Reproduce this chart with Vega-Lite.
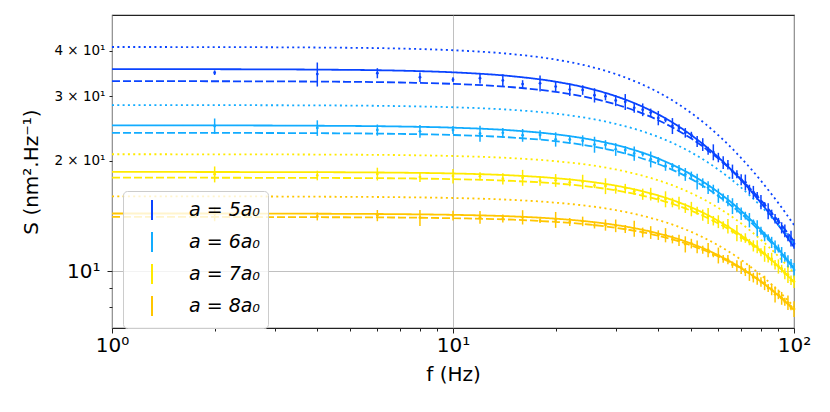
{
  "$schema": "https://vega.github.io/schema/vega-lite/v6.json",
  "width": 682,
  "height": 313,
  "autosize": {"type": "none"},
  "padding": {"left": 112, "top": 15, "right": 36, "bottom": 84},
  "background": "white",
  "config": {
    "font": "DejaVu Sans",
    "view": {"stroke": "#222222", "strokeWidth": 1.1},
    "axis": {
      "domain": false,
      "tickColor": "#222222",
      "tickWidth": 1,
      "labelColor": "#000000",
      "titleColor": "#000000",
      "labelFont": "DejaVu Sans",
      "titleFont": "DejaVu Sans",
      "titleFontWeight": "normal",
      "gridColor": "#b0b0b0",
      "gridWidth": 0.8
    },
    "legend": {
      "orient": "none",
      "legendX": 11,
      "legendY": 176,
      "padding": 8,
      "symbolType": "M0,-1L0,1",
      "symbolSize": 400,
      "symbolStrokeWidth": 2,
      "symbolOffset": 10,
      "labelOffset": 26,
      "labelFontSize": 19,
      "labelFontStyle": "italic",
      "labelFont": "DejaVu Sans",
      "labelColor": "#000000",
      "rowPadding": 4,
      "strokeColor": "#cccccc",
      "fillColor": "rgba(255,255,255,0.8)",
      "cornerRadius": 4
    }
  },
  "datasets": {
    "curves": [
      {"a":"5","k":"fit","f":1,"S":35.6},{"a":"5","k":"fit","f":2,"S":35.57},{"a":"5","k":"fit","f":4,"S":35.48},{"a":"5","k":"fit","f":7,"S":35.25},{"a":"5","k":"fit","f":10,"S":34.88},{"a":"5","k":"fit","f":15,"S":34.02},{"a":"5","k":"fit","f":20,"S":32.89},{"a":"5","k":"fit","f":25,"S":31.54},{"a":"5","k":"fit","f":30,"S":30.03},{"a":"5","k":"fit","f":35,"S":28.43},{"a":"5","k":"fit","f":40,"S":26.78},{"a":"5","k":"fit","f":45,"S":25.13},{"a":"5","k":"fit","f":50,"S":23.5},{"a":"5","k":"fit","f":55,"S":21.94},{"a":"5","k":"fit","f":60,"S":20.45},{"a":"5","k":"fit","f":65,"S":19.04},{"a":"5","k":"fit","f":70,"S":17.72},{"a":"5","k":"fit","f":75,"S":16.5},{"a":"5","k":"fit","f":80,"S":15.36},{"a":"5","k":"fit","f":85,"S":14.31},{"a":"5","k":"fit","f":90,"S":13.35},{"a":"5","k":"fit","f":95,"S":12.46},{"a":"5","k":"fit","f":100,"S":11.64},
      {"a":"5","k":"sim","f":1,"S":33.0},{"a":"5","k":"sim","f":2,"S":32.98},{"a":"5","k":"sim","f":4,"S":32.91},{"a":"5","k":"sim","f":7,"S":32.72},{"a":"5","k":"sim","f":10,"S":32.44},{"a":"5","k":"sim","f":15,"S":31.76},{"a":"5","k":"sim","f":20,"S":30.85},{"a":"5","k":"sim","f":25,"S":29.76},{"a":"5","k":"sim","f":30,"S":28.53},{"a":"5","k":"sim","f":35,"S":27.2},{"a":"5","k":"sim","f":40,"S":25.82},{"a":"5","k":"sim","f":45,"S":24.4},{"a":"5","k":"sim","f":50,"S":23.0},{"a":"5","k":"sim","f":55,"S":21.62},{"a":"5","k":"sim","f":60,"S":20.29},{"a":"5","k":"sim","f":65,"S":19.02},{"a":"5","k":"sim","f":70,"S":17.82},{"a":"5","k":"sim","f":75,"S":16.68},{"a":"5","k":"sim","f":80,"S":15.62},{"a":"5","k":"sim","f":85,"S":14.62},{"a":"5","k":"sim","f":90,"S":13.7},{"a":"5","k":"sim","f":95,"S":12.84},{"a":"5","k":"sim","f":100,"S":12.05},
      {"a":"5","k":"model","f":1,"S":40.9},{"a":"5","k":"model","f":2,"S":40.87},{"a":"5","k":"model","f":4,"S":40.76},{"a":"5","k":"model","f":7,"S":40.5},{"a":"5","k":"model","f":10,"S":40.07},{"a":"5","k":"model","f":15,"S":39.09},{"a":"5","k":"model","f":20,"S":37.79},{"a":"5","k":"model","f":25,"S":36.24},{"a":"5","k":"model","f":30,"S":34.5},{"a":"5","k":"model","f":35,"S":32.66},{"a":"5","k":"model","f":40,"S":30.77},{"a":"5","k":"model","f":45,"S":28.87},{"a":"5","k":"model","f":50,"S":27.0},{"a":"5","k":"model","f":55,"S":25.21},{"a":"5","k":"model","f":60,"S":23.49},{"a":"5","k":"model","f":65,"S":21.88},{"a":"5","k":"model","f":70,"S":20.36},{"a":"5","k":"model","f":75,"S":18.96},{"a":"5","k":"model","f":80,"S":17.65},{"a":"5","k":"model","f":85,"S":16.44},{"a":"5","k":"model","f":90,"S":15.34},{"a":"5","k":"model","f":95,"S":14.31},{"a":"5","k":"model","f":100,"S":13.37},
      {"a":"6","k":"fit","f":1,"S":25.0},{"a":"6","k":"fit","f":2,"S":24.99},{"a":"6","k":"fit","f":4,"S":24.94},{"a":"6","k":"fit","f":7,"S":24.82},{"a":"6","k":"fit","f":10,"S":24.64},{"a":"6","k":"fit","f":15,"S":24.21},{"a":"6","k":"fit","f":20,"S":23.63},{"a":"6","k":"fit","f":25,"S":22.92},{"a":"6","k":"fit","f":30,"S":22.11},{"a":"6","k":"fit","f":35,"S":21.23},{"a":"6","k":"fit","f":40,"S":20.29},{"a":"6","k":"fit","f":45,"S":19.32},{"a":"6","k":"fit","f":50,"S":18.35},{"a":"6","k":"fit","f":55,"S":17.37},{"a":"6","k":"fit","f":60,"S":16.42},{"a":"6","k":"fit","f":65,"S":15.5},{"a":"6","k":"fit","f":70,"S":14.61},{"a":"6","k":"fit","f":75,"S":13.77},{"a":"6","k":"fit","f":80,"S":12.96},{"a":"6","k":"fit","f":85,"S":12.21},{"a":"6","k":"fit","f":90,"S":11.49},{"a":"6","k":"fit","f":95,"S":10.82},{"a":"6","k":"fit","f":100,"S":10.2},
      {"a":"6","k":"sim","f":1,"S":23.85},{"a":"6","k":"sim","f":2,"S":23.84},{"a":"6","k":"sim","f":4,"S":23.8},{"a":"6","k":"sim","f":7,"S":23.69},{"a":"6","k":"sim","f":10,"S":23.53},{"a":"6","k":"sim","f":15,"S":23.15},{"a":"6","k":"sim","f":20,"S":22.63},{"a":"6","k":"sim","f":25,"S":21.99},{"a":"6","k":"sim","f":30,"S":21.26},{"a":"6","k":"sim","f":35,"S":20.46},{"a":"6","k":"sim","f":40,"S":19.61},{"a":"6","k":"sim","f":45,"S":18.73},{"a":"6","k":"sim","f":50,"S":17.83},{"a":"6","k":"sim","f":55,"S":16.93},{"a":"6","k":"sim","f":60,"S":16.04},{"a":"6","k":"sim","f":65,"S":15.18},{"a":"6","k":"sim","f":70,"S":14.35},{"a":"6","k":"sim","f":75,"S":13.55},{"a":"6","k":"sim","f":80,"S":12.79},{"a":"6","k":"sim","f":85,"S":12.07},{"a":"6","k":"sim","f":90,"S":11.39},{"a":"6","k":"sim","f":95,"S":10.75},{"a":"6","k":"sim","f":100,"S":10.14},
      {"a":"6","k":"model","f":1,"S":28.4},{"a":"6","k":"model","f":2,"S":28.38},{"a":"6","k":"model","f":4,"S":28.34},{"a":"6","k":"model","f":7,"S":28.21},{"a":"6","k":"model","f":10,"S":28.01},{"a":"6","k":"model","f":15,"S":27.54},{"a":"6","k":"model","f":20,"S":26.91},{"a":"6","k":"model","f":25,"S":26.13},{"a":"6","k":"model","f":30,"S":25.24},{"a":"6","k":"model","f":35,"S":24.27},{"a":"6","k":"model","f":40,"S":23.24},{"a":"6","k":"model","f":45,"S":22.17},{"a":"6","k":"model","f":50,"S":21.08},{"a":"6","k":"model","f":55,"S":20.0},{"a":"6","k":"model","f":60,"S":18.93},{"a":"6","k":"model","f":65,"S":17.9},{"a":"6","k":"model","f":70,"S":16.9},{"a":"6","k":"model","f":75,"S":15.94},{"a":"6","k":"model","f":80,"S":15.04},{"a":"6","k":"model","f":85,"S":14.18},{"a":"6","k":"model","f":90,"S":13.36},{"a":"6","k":"model","f":95,"S":12.6},{"a":"6","k":"model","f":100,"S":11.89},
      {"a":"7","k":"fit","f":1,"S":18.66},{"a":"7","k":"fit","f":2,"S":18.65},{"a":"7","k":"fit","f":4,"S":18.63},{"a":"7","k":"fit","f":7,"S":18.57},{"a":"7","k":"fit","f":10,"S":18.48},{"a":"7","k":"fit","f":15,"S":18.25},{"a":"7","k":"fit","f":20,"S":17.94},{"a":"7","k":"fit","f":25,"S":17.56},{"a":"7","k":"fit","f":30,"S":17.12},{"a":"7","k":"fit","f":35,"S":16.62},{"a":"7","k":"fit","f":40,"S":16.09},{"a":"7","k":"fit","f":45,"S":15.52},{"a":"7","k":"fit","f":50,"S":14.93},{"a":"7","k":"fit","f":55,"S":14.33},{"a":"7","k":"fit","f":60,"S":13.72},{"a":"7","k":"fit","f":65,"S":13.12},{"a":"7","k":"fit","f":70,"S":12.52},{"a":"7","k":"fit","f":75,"S":11.94},{"a":"7","k":"fit","f":80,"S":11.38},{"a":"7","k":"fit","f":85,"S":10.83},{"a":"7","k":"fit","f":90,"S":10.31},{"a":"7","k":"fit","f":95,"S":9.81},{"a":"7","k":"fit","f":100,"S":9.33},
      {"a":"7","k":"sim","f":1,"S":18.0},{"a":"7","k":"sim","f":2,"S":17.99},{"a":"7","k":"sim","f":4,"S":17.97},{"a":"7","k":"sim","f":7,"S":17.92},{"a":"7","k":"sim","f":10,"S":17.83},{"a":"7","k":"sim","f":15,"S":17.63},{"a":"7","k":"sim","f":20,"S":17.36},{"a":"7","k":"sim","f":25,"S":17.02},{"a":"7","k":"sim","f":30,"S":16.62},{"a":"7","k":"sim","f":35,"S":16.17},{"a":"7","k":"sim","f":40,"S":15.68},{"a":"7","k":"sim","f":45,"S":15.16},{"a":"7","k":"sim","f":50,"S":14.62},{"a":"7","k":"sim","f":55,"S":14.06},{"a":"7","k":"sim","f":60,"S":13.5},{"a":"7","k":"sim","f":65,"S":12.94},{"a":"7","k":"sim","f":70,"S":12.38},{"a":"7","k":"sim","f":75,"S":11.84},{"a":"7","k":"sim","f":80,"S":11.3},{"a":"7","k":"sim","f":85,"S":10.79},{"a":"7","k":"sim","f":90,"S":10.29},{"a":"7","k":"sim","f":95,"S":9.81},{"a":"7","k":"sim","f":100,"S":9.35},
      {"a":"7","k":"model","f":1,"S":20.85},{"a":"7","k":"model","f":2,"S":20.84},{"a":"7","k":"model","f":4,"S":20.81},{"a":"7","k":"model","f":7,"S":20.74},{"a":"7","k":"model","f":10,"S":20.62},{"a":"7","k":"model","f":15,"S":20.34},{"a":"7","k":"model","f":20,"S":19.96},{"a":"7","k":"model","f":25,"S":19.5},{"a":"7","k":"model","f":30,"S":18.95},{"a":"7","k":"model","f":35,"S":18.35},{"a":"7","k":"model","f":40,"S":17.7},{"a":"7","k":"model","f":45,"S":17.02},{"a":"7","k":"model","f":50,"S":16.32},{"a":"7","k":"model","f":55,"S":15.61},{"a":"7","k":"model","f":60,"S":14.89},{"a":"7","k":"model","f":65,"S":14.19},{"a":"7","k":"model","f":70,"S":13.5},{"a":"7","k":"model","f":75,"S":12.83},{"a":"7","k":"model","f":80,"S":12.18},{"a":"7","k":"model","f":85,"S":11.57},{"a":"7","k":"model","f":90,"S":10.97},{"a":"7","k":"model","f":95,"S":10.41},{"a":"7","k":"model","f":100,"S":9.88},
      {"a":"8","k":"fit","f":1,"S":14.37},{"a":"8","k":"fit","f":2,"S":14.37},{"a":"8","k":"fit","f":4,"S":14.35},{"a":"8","k":"fit","f":7,"S":14.31},{"a":"8","k":"fit","f":10,"S":14.25},{"a":"8","k":"fit","f":15,"S":14.11},{"a":"8","k":"fit","f":20,"S":13.91},{"a":"8","k":"fit","f":25,"S":13.66},{"a":"8","k":"fit","f":30,"S":13.37},{"a":"8","k":"fit","f":35,"S":13.04},{"a":"8","k":"fit","f":40,"S":12.68},{"a":"8","k":"fit","f":45,"S":12.3},{"a":"8","k":"fit","f":50,"S":11.89},{"a":"8","k":"fit","f":55,"S":11.48},{"a":"8","k":"fit","f":60,"S":11.05},{"a":"8","k":"fit","f":65,"S":10.63},{"a":"8","k":"fit","f":70,"S":10.2},{"a":"8","k":"fit","f":75,"S":9.78},{"a":"8","k":"fit","f":80,"S":9.37},{"a":"8","k":"fit","f":85,"S":8.97},{"a":"8","k":"fit","f":90,"S":8.58},{"a":"8","k":"fit","f":95,"S":8.2},{"a":"8","k":"fit","f":100,"S":7.84},
      {"a":"8","k":"sim","f":1,"S":14.06},{"a":"8","k":"sim","f":2,"S":14.06},{"a":"8","k":"sim","f":4,"S":14.04},{"a":"8","k":"sim","f":7,"S":14.01},{"a":"8","k":"sim","f":10,"S":13.95},{"a":"8","k":"sim","f":15,"S":13.82},{"a":"8","k":"sim","f":20,"S":13.63},{"a":"8","k":"sim","f":25,"S":13.41},{"a":"8","k":"sim","f":30,"S":13.14},{"a":"8","k":"sim","f":35,"S":12.83},{"a":"8","k":"sim","f":40,"S":12.5},{"a":"8","k":"sim","f":45,"S":12.14},{"a":"8","k":"sim","f":50,"S":11.76},{"a":"8","k":"sim","f":55,"S":11.37},{"a":"8","k":"sim","f":60,"S":10.97},{"a":"8","k":"sim","f":65,"S":10.57},{"a":"8","k":"sim","f":70,"S":10.17},{"a":"8","k":"sim","f":75,"S":9.77},{"a":"8","k":"sim","f":80,"S":9.37},{"a":"8","k":"sim","f":85,"S":8.99},{"a":"8","k":"sim","f":90,"S":8.61},{"a":"8","k":"sim","f":95,"S":8.25},{"a":"8","k":"sim","f":100,"S":7.89},
      {"a":"8","k":"model","f":1,"S":16.0},{"a":"8","k":"model","f":2,"S":16.0},{"a":"8","k":"model","f":4,"S":15.97},{"a":"8","k":"model","f":7,"S":15.92},{"a":"8","k":"model","f":10,"S":15.84},{"a":"8","k":"model","f":15,"S":15.65},{"a":"8","k":"model","f":20,"S":15.38},{"a":"8","k":"model","f":25,"S":15.06},{"a":"8","k":"model","f":30,"S":14.68},{"a":"8","k":"model","f":35,"S":14.25},{"a":"8","k":"model","f":40,"S":13.79},{"a":"8","k":"model","f":45,"S":13.31},{"a":"8","k":"model","f":50,"S":12.8},{"a":"8","k":"model","f":55,"S":12.28},{"a":"8","k":"model","f":60,"S":11.76},{"a":"8","k":"model","f":65,"S":11.25},{"a":"8","k":"model","f":70,"S":10.74},{"a":"8","k":"model","f":75,"S":10.24},{"a":"8","k":"model","f":80,"S":9.76},{"a":"8","k":"model","f":85,"S":9.29},{"a":"8","k":"model","f":90,"S":8.84},{"a":"8","k":"model","f":95,"S":8.41},{"a":"8","k":"model","f":100,"S":8.0}
    ],
    "points": [
      {"a":"5","f":2,"S":34.8,"e":0.5},{"a":"5","f":4,"S":34.5,"e":2.6},{"a":"5","f":6,"S":34.7,"e":1.1},{"a":"5","f":8,"S":33.82,"e":1.0},{"a":"5","f":10,"S":33.3,"e":0.5},{"a":"5","f":12,"S":33.6,"e":1.1},{"a":"5","f":14,"S":33.15,"e":1.33},{"a":"5","f":16,"S":32.39,"e":0.81},{"a":"5","f":18,"S":32.55,"e":1.63},{"a":"5","f":20,"S":31.89,"e":0.96},
      {"a":"5","f":22,"S":31.3,"e":1.25},{"a":"5","f":24,"S":31.22,"e":0.94},{"a":"5","f":26,"S":30.21,"e":1.36},{"a":"5","f":28,"S":30.0,"e":0.75},{"a":"5","f":30,"S":29.23,"e":1.02},{"a":"5","f":32,"S":28.98,"e":1.45},{"a":"5","f":34,"S":27.91,"e":0.84},{"a":"5","f":36,"S":27.59,"e":1.1},{"a":"5","f":38,"S":27.09,"e":0.68},{"a":"5","f":40,"S":26.19,"e":1.18},
      {"a":"5","f":42,"S":25.88,"e":0.39},{"a":"5","f":44,"S":24.92,"e":1.25},{"a":"5","f":46,"S":24.58,"e":0.61},{"a":"5","f":48,"S":23.86,"e":0.72},{"a":"5","f":50,"S":23.54,"e":0.47},{"a":"5","f":52,"S":22.6,"e":0.79},{"a":"5","f":54,"S":22.17,"e":0.89},{"a":"5","f":56,"S":21.33,"e":0.53},{"a":"5","f":58,"S":21.13,"e":1.06},{"a":"5","f":60,"S":20.43,"e":0.61},
      {"a":"5","f":62,"S":19.8,"e":0.79},{"a":"5","f":64,"S":19.52,"e":0.59},{"a":"5","f":66,"S":18.7,"e":0.84},{"a":"5","f":68,"S":18.39,"e":0.46},{"a":"5","f":70,"S":17.77,"e":0.62},{"a":"5","f":72,"S":17.48,"e":0.87},{"a":"5","f":74,"S":16.72,"e":0.5},{"a":"5","f":76,"S":16.43,"e":0.66},{"a":"5","f":78,"S":16.05,"e":0.4},{"a":"5","f":80,"S":15.45,"e":0.7},
      {"a":"5","f":82,"S":15.21,"e":0.23},{"a":"5","f":84,"S":14.59,"e":0.73},{"a":"5","f":86,"S":14.36,"e":0.36},{"a":"5","f":88,"S":13.91,"e":0.42},{"a":"5","f":90,"S":13.71,"e":0.27},{"a":"5","f":92,"S":13.14,"e":0.46},{"a":"5","f":94,"S":12.89,"e":0.52},{"a":"5","f":96,"S":12.39,"e":0.31},{"a":"5","f":98,"S":12.29,"e":0.61},{"a":"5","f":100,"S":11.88,"e":0.36},
      {"a":"6","f":2,"S":24.9,"e":1.2},{"a":"6","f":4,"S":24.6,"e":1.2},{"a":"6","f":6,"S":24.28,"e":0.85},{"a":"6","f":8,"S":24.08,"e":0.96},{"a":"6","f":10,"S":24.28,"e":0.61},{"a":"6","f":12,"S":23.75,"e":1.19},{"a":"6","f":14,"S":23.85,"e":0.72},{"a":"6","f":16,"S":23.49,"e":0.94},{"a":"6","f":18,"S":23.53,"e":0.71},{"a":"6","f":20,"S":22.9,"e":1.03},
      {"a":"6","f":22,"S":22.87,"e":0.57},{"a":"6","f":24,"S":22.69,"e":0.79},{"a":"6","f":26,"S":22.16,"e":1.11},{"a":"6","f":28,"S":22.12,"e":0.66},{"a":"6","f":30,"S":21.5,"e":0.86},{"a":"6","f":32,"S":21.4,"e":0.54},{"a":"6","f":34,"S":20.96,"e":0.94},{"a":"6","f":36,"S":20.87,"e":0.31},{"a":"6","f":38,"S":20.2,"e":1.01},{"a":"6","f":40,"S":19.98,"e":0.5},
      {"a":"6","f":42,"S":19.37,"e":0.58},{"a":"6","f":44,"S":19.33,"e":0.39},{"a":"6","f":46,"S":18.83,"e":0.66},{"a":"6","f":48,"S":18.38,"e":0.74},{"a":"6","f":50,"S":18.24,"e":0.46},{"a":"6","f":52,"S":17.58,"e":0.88},{"a":"6","f":54,"S":17.4,"e":0.52},{"a":"6","f":56,"S":16.91,"e":0.68},{"a":"6","f":58,"S":16.72,"e":0.5},{"a":"6","f":60,"S":16.08,"e":0.72},
      {"a":"6","f":62,"S":15.89,"e":0.4},{"a":"6","f":64,"S":15.59,"e":0.55},{"a":"6","f":66,"S":15.07,"e":0.75},{"a":"6","f":68,"S":14.91,"e":0.45},{"a":"6","f":70,"S":14.36,"e":0.57},{"a":"6","f":72,"S":14.18,"e":0.35},{"a":"6","f":74,"S":13.79,"e":0.62},{"a":"6","f":76,"S":13.64,"e":0.2},{"a":"6","f":78,"S":13.11,"e":0.66},{"a":"6","f":80,"S":12.9,"e":0.32},
      {"a":"6","f":82,"S":12.44,"e":0.37},{"a":"6","f":84,"S":12.37,"e":0.25},{"a":"6","f":86,"S":11.99,"e":0.42},{"a":"6","f":88,"S":11.66,"e":0.47},{"a":"6","f":90,"S":11.54,"e":0.29},{"a":"6","f":92,"S":11.09,"e":0.55},{"a":"6","f":94,"S":10.95,"e":0.33},{"a":"6","f":96,"S":10.63,"e":0.43},{"a":"6","f":98,"S":10.49,"e":0.31},{"a":"6","f":100,"S":10.08,"e":0.45},
      {"a":"7","f":2,"S":18.39,"e":0.92},{"a":"7","f":4,"S":18.25,"e":0.55},{"a":"7","f":6,"S":18.42,"e":0.74},{"a":"7","f":8,"S":18.06,"e":0.54},{"a":"7","f":10,"S":18.18,"e":0.82},{"a":"7","f":12,"S":18.17,"e":0.45},{"a":"7","f":14,"S":17.88,"e":0.63},{"a":"7","f":16,"S":18.0,"e":0.9},{"a":"7","f":18,"S":17.64,"e":0.53},{"a":"7","f":20,"S":17.7,"e":0.71},
      {"a":"7","f":22,"S":17.48,"e":0.44},{"a":"7","f":24,"S":17.54,"e":0.79},{"a":"7","f":26,"S":17.12,"e":0.26},{"a":"7","f":28,"S":17.08,"e":0.85},{"a":"7","f":30,"S":16.7,"e":0.42},{"a":"7","f":32,"S":16.81,"e":0.5},{"a":"7","f":34,"S":16.5,"e":0.33},{"a":"7","f":36,"S":16.23,"e":0.57},{"a":"7","f":38,"S":16.24,"e":0.65},{"a":"7","f":40,"S":15.78,"e":0.39},
      {"a":"7","f":42,"S":15.73,"e":0.79},{"a":"7","f":44,"S":15.4,"e":0.46},{"a":"7","f":46,"S":15.35,"e":0.61},{"a":"7","f":48,"S":14.87,"e":0.45},{"a":"7","f":50,"S":14.79,"e":0.67},{"a":"7","f":52,"S":14.62,"e":0.37},{"a":"7","f":54,"S":14.23,"e":0.5},{"a":"7","f":56,"S":14.16,"e":0.71},{"a":"7","f":58,"S":13.74,"e":0.41},{"a":"7","f":60,"S":13.66,"e":0.55},
      {"a":"7","f":62,"S":13.35,"e":0.33},{"a":"7","f":64,"S":13.28,"e":0.6},{"a":"7","f":66,"S":12.86,"e":0.19},{"a":"7","f":68,"S":12.72,"e":0.64},{"a":"7","f":70,"S":12.34,"e":0.31},{"a":"7","f":72,"S":12.32,"e":0.37},{"a":"7","f":74,"S":12.01,"e":0.24},{"a":"7","f":76,"S":11.73,"e":0.41},{"a":"7","f":78,"S":11.67,"e":0.47},{"a":"7","f":80,"S":11.27,"e":0.28},
      {"a":"7","f":82,"S":11.17,"e":0.56},{"a":"7","f":84,"S":10.89,"e":0.33},{"a":"7","f":86,"S":10.8,"e":0.43},{"a":"7","f":88,"S":10.42,"e":0.31},{"a":"7","f":90,"S":10.31,"e":0.46},{"a":"7","f":92,"S":10.16,"e":0.25},{"a":"7","f":94,"S":9.85,"e":0.34},{"a":"7","f":96,"S":9.78,"e":0.49},{"a":"7","f":98,"S":9.45,"e":0.28},{"a":"7","f":100,"S":9.37,"e":0.37},
      {"a":"8","f":2,"S":14.34,"e":0.65},{"a":"8","f":4,"S":14.11,"e":0.35},{"a":"8","f":6,"S":14.19,"e":0.5},{"a":"8","f":8,"S":13.99,"e":0.7},{"a":"8","f":10,"S":14.19,"e":0.43},{"a":"8","f":12,"S":14.04,"e":0.56},{"a":"8","f":14,"S":13.92,"e":0.35},{"a":"8","f":16,"S":14.04,"e":0.63},{"a":"8","f":18,"S":13.74,"e":0.21},{"a":"8","f":20,"S":13.82,"e":0.69},
      {"a":"8","f":22,"S":13.63,"e":0.34},{"a":"8","f":24,"S":13.68,"e":0.41},{"a":"8","f":26,"S":13.35,"e":0.27},{"a":"8","f":28,"S":13.37,"e":0.47},{"a":"8","f":30,"S":13.31,"e":0.53},{"a":"8","f":32,"S":13.04,"e":0.33},{"a":"8","f":34,"S":13.07,"e":0.65},{"a":"8","f":36,"S":12.76,"e":0.39},{"a":"8","f":38,"S":12.76,"e":0.51},{"a":"8","f":40,"S":12.55,"e":0.38},
      {"a":"8","f":42,"S":12.55,"e":0.56},{"a":"8","f":44,"S":12.22,"e":0.31},{"a":"8","f":46,"S":12.15,"e":0.43},{"a":"8","f":48,"S":11.85,"e":0.6},{"a":"8","f":50,"S":11.9,"e":0.36},{"a":"8","f":52,"S":11.66,"e":0.47},{"a":"8","f":54,"S":11.45,"e":0.29},{"a":"8","f":56,"S":11.43,"e":0.51},{"a":"8","f":58,"S":11.09,"e":0.17},{"a":"8","f":60,"S":11.05,"e":0.55},
      {"a":"8","f":62,"S":10.81,"e":0.27},{"a":"8","f":64,"S":10.76,"e":0.32},{"a":"8","f":66,"S":10.42,"e":0.21},{"a":"8","f":68,"S":10.35,"e":0.36},{"a":"8","f":70,"S":10.23,"e":0.41},{"a":"8","f":72,"S":9.95,"e":0.25},{"a":"8","f":74,"S":9.91,"e":0.5},{"a":"8","f":76,"S":9.61,"e":0.29},{"a":"8","f":78,"S":9.56,"e":0.38},{"a":"8","f":80,"S":9.35,"e":0.28},
      {"a":"8","f":82,"S":9.3,"e":0.42},{"a":"8","f":84,"S":9.0,"e":0.23},{"a":"8","f":86,"S":8.91,"e":0.31},{"a":"8","f":88,"S":8.65,"e":0.43},{"a":"8","f":90,"S":8.65,"e":0.26},{"a":"8","f":92,"S":8.44,"e":0.34},{"a":"8","f":94,"S":8.26,"e":0.21},{"a":"8","f":96,"S":8.21,"e":0.37},{"a":"8","f":98,"S":7.94,"e":0.12},{"a":"8","f":100,"S":7.89,"e":0.39}
    ]
  },
  "resolve": {"axis": {"x": "independent", "y": "independent"}},
  "layer": [
    {
      "data": {"name": "curves"},
      "mark": {"type": "line", "strokeWidth": 1.8, "interpolate": "monotone", "clip": true},
      "encoding": {
        "x": {
          "field": "f", "type": "quantitative",
          "scale": {"type": "log", "domain": [1, 100], "nice": false},
          "axis": {
            "orient": "bottom",
            "values": [1, 10, 100],
            "labelExpr": "datum.value == 1 ? '10⁰' : datum.value == 10 ? '10¹' : '10²'",
            "labelFontSize": 20,
            "labelPadding": 2,
            "tickSize": 5,
            "labelFlush": false,
            "labelOverlap": false,
            "grid": true,
            "title": "f (Hz)",
            "titleFontSize": 20,
            "titlePadding": 9
          }
        },
        "y": {
          "field": "S", "type": "quantitative",
          "scale": {"type": "log", "domain": [7, 50], "nice": false},
          "axis": {
            "orient": "left",
            "values": [10],
            "labelExpr": "'10¹'",
            "labelFontSize": 20,
            "labelPadding": 7,
            "tickSize": 5,
            "grid": true,
            "title": null
          }
        },
        "color": {
          "field": "a", "type": "nominal",
          "scale": {"domain": ["5", "6", "7", "8"], "range": ["#0a44ff", "#12acff", "#ffea00", "#ffc600"]},
          "legend": {"title": null, "labelExpr": "'a = ' + datum.label + 'a₀'"}
        },
        "strokeDash": {
          "field": "k", "type": "nominal",
          "scale": {"domain": ["fit", "sim", "model"], "range": [[1, 0], [8, 3], [2, 3.3]]},
          "legend": null
        }
      }
    },
    {
      "data": {"name": "points"},
      "mark": {"type": "errorbar", "thickness": 1.5, "ticks": false},
      "encoding": {
        "x": {
          "field": "f", "type": "quantitative",
          "scale": {"type": "log", "domain": [1, 100], "nice": false},
          "axis": {
            "orient": "bottom",
            "values": [2, 3, 4, 5, 6, 7, 8, 9, 20, 30, 40, 50, 60, 70, 80, 90],
            "labels": false,
            "tickSize": 3,
            "grid": false,
            "title": null
          }
        },
        "y": {
          "field": "S", "type": "quantitative",
          "scale": {"type": "log", "domain": [7, 50], "nice": false},
          "axis": {
            "orient": "left",
            "values": [8, 9, 20, 30, 40],
            "labelExpr": "datum.value >= 20 ? (datum.value / 10) + ' × 10¹' : ''",
            "labelFontSize": 13.5,
            "labelPadding": 4,
            "tickSize": 3,
            "grid": false,
            "title": "S (nm².Hz⁻¹)",
            "titleFontSize": 20,
            "titlePadding": 12
          }
        },
        "yError": {"field": "e"},
        "color": {
          "field": "a", "type": "nominal",
          "legend": {"title": null, "labelExpr": "'a = ' + datum.label + 'a₀'"}
        }
      }
    },
    {
      "data": {"name": "points"},
      "mark": {"type": "circle", "size": 8, "opacity": 1},
      "encoding": {
        "x": {"field": "f", "type": "quantitative", "scale": {"type": "log", "domain": [1, 100], "nice": false}, "axis": null},
        "y": {"field": "S", "type": "quantitative", "scale": {"type": "log", "domain": [7, 50], "nice": false}, "axis": null},
        "color": {
          "field": "a", "type": "nominal",
          "legend": {"title": null, "labelExpr": "'a = ' + datum.label + 'a₀'"}
        }
      }
    }
  ]
}
